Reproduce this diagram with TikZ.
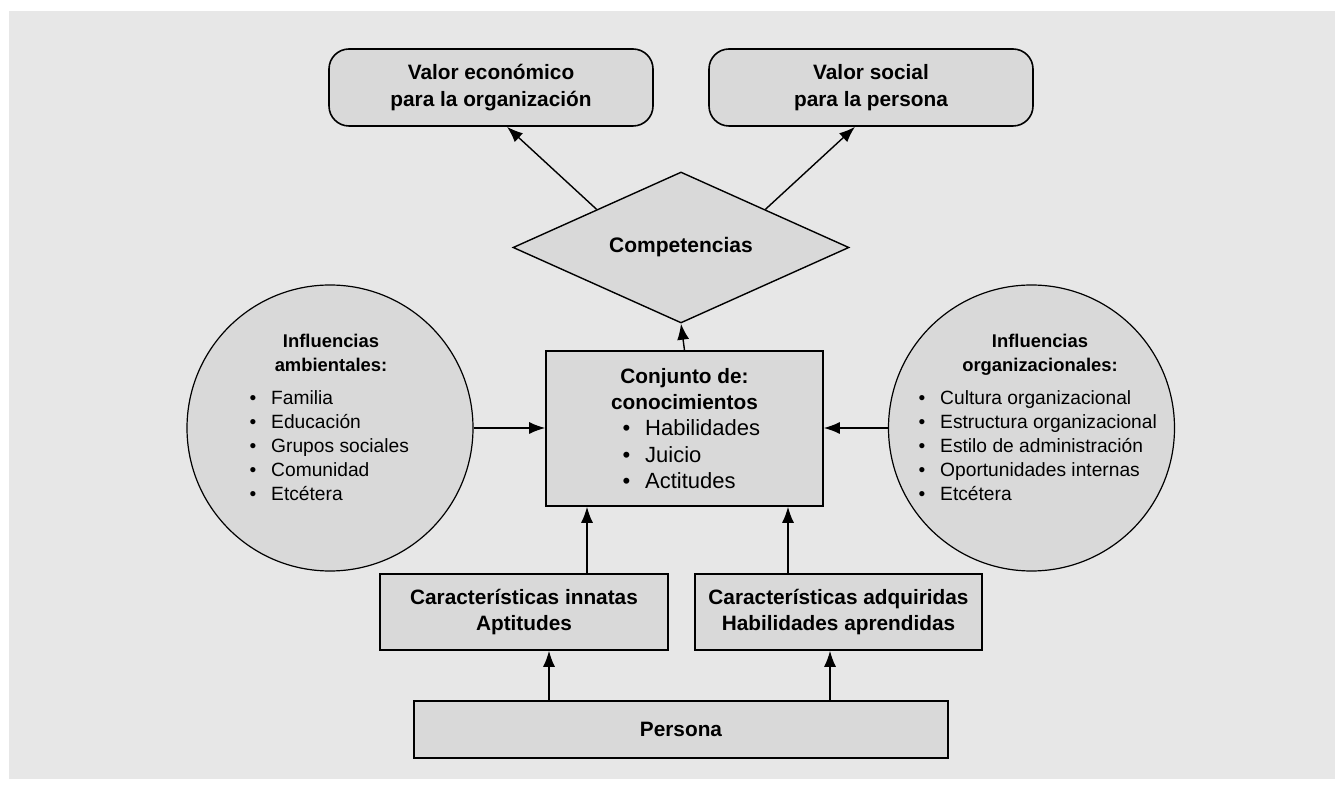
\documentclass[tikz,border=0pt]{standalone}
\usepackage{fontspec}
\setmainfont{Liberation Sans}
\usepackage{tikz}
\usetikzlibrary{arrows.meta,shapes.geometric,calc}
\definecolor{panelgray}{HTML}{E7E7E7}
\definecolor{boxgray}{HTML}{D9D9D9}
\newcommand{\bitem}[2]{\makebox[#1][l]{\textbullet\hspace{7.5pt}#2}}

\begin{document}
\begin{tikzpicture}[x=0.5pt, y=-0.5pt, >={Latex[length=8pt,width=6pt]},
  every node/.style={inner sep=0pt},
  topbox/.style={draw, line width=0.8pt, fill=boxgray, rounded corners=10pt,
    minimum width=162pt, minimum height=38.5pt, align=center,
    font=\bfseries\fontsize{10.4}{13.3}\selectfont},
  flatbox/.style={draw, line width=0.8pt, fill=boxgray, align=center,
    font=\bfseries\fontsize{10.4}{13.2}\selectfont},
  infcircle/.style={circle, draw, line width=0.6pt, fill=boxgray, minimum size=143pt},
  inftext/.style={align=center, font=\fontsize{9.6}{12}\selectfont},
  flow/.style={->, line width=0.7pt}]
  \useasboundingbox (0,0) rectangle (1344,790);
  \fill[panelgray] (9,11) rectangle (1335,779);

  % valores
  \node[topbox] (valecon) at (491,87.5) {Valor económico\\para la organización};
  \node[topbox] (valsoc) at (871,87.5) {Valor social\\para la persona};

  % competencias
  \node[diamond, draw, line width=0.7pt, fill=boxgray, aspect=2.2,
    minimum width=168pt, minimum height=75.5pt,
    font=\bfseries\fontsize{10.5}{13}\selectfont] (comp) at (681,247.5) {Competencias};

  % conjunto
  \node[flatbox, minimum width=138.5pt, minimum height=77.5pt] (conj) at (684.5,428.5)
    {Conjunto de:\\conocimientos\\
     {\mdseries\fontsize{11}{13.5}\selectfont\bitem{62pt}{Habilidades}}\\
     {\mdseries\fontsize{11}{13.5}\selectfont\bitem{62pt}{Juicio}}\\
     {\mdseries\fontsize{11}{13.5}\selectfont\bitem{62pt}{Actitudes}}};

  % influencias
  \node[infcircle] (infamb) at (330,428) {};
  \node[inftext] (infambtxt) at (331,417)
    {{\bfseries\fontsize{9.2}{12}\selectfont Influencias}\\
     {\bfseries\fontsize{9.2}{12}\selectfont ambientales:}\\[4.5pt]
     \bitem{81.5pt}{Familia}\\
     \bitem{81.5pt}{Educación}\\
     \bitem{81.5pt}{Grupos sociales}\\
     \bitem{81.5pt}{Comunidad}\\
     \bitem{81.5pt}{Etcétera}};
  \node[infcircle] (inforg) at (1031.5,428) {};
  \node[inftext] (inforgtxt) at (1040,417)
    {{\bfseries\fontsize{9.2}{12}\selectfont Influencias}\\
     {\bfseries\fontsize{9.2}{12}\selectfont organizacionales:}\\[4.5pt]
     \bitem{121.5pt}{Cultura organizacional}\\
     \bitem{121.5pt}{Estructura organizacional}\\
     \bitem{121.5pt}{Estilo de administración}\\
     \bitem{121.5pt}{Oportunidades internas}\\
     \bitem{121.5pt}{Etcétera}};

  % caracteristicas y persona
  \node[flatbox, minimum width=144pt, minimum height=38pt] (innat) at (524,612)
    {Características innatas\\Aptitudes};
  \node[flatbox, minimum width=143.5pt, minimum height=38pt] (adq) at (838.5,612)
    {Características adquiridas\\Habilidades aprendidas};
  \node[flatbox, minimum width=267pt, minimum height=28.5pt] (persona) at (681,729.5)
    {Persona};

  % flechas
  \foreach \x/\a/\b in {549/persona/innat, 830/persona/adq, 587/innat/conj, 788/adq/conj} {
    \coordinate (c) at (\x,0);
    \draw[flow] (c |- \a.north) -- (c |- \b.south);
  }
  \draw[flow] (conj.north) -- (comp.south);
  \draw[flow] ($(comp.north)!0.5!(comp.west)$) -- ([xshift=8pt]valecon.south);
  \draw[flow] ($(comp.north)!0.5!(comp.east)$) -- ([xshift=-8pt]valsoc.south);
  \draw[flow] (infamb.east) -- (infamb.east -| conj.west);
  \draw[flow] (inforg.west) -- (inforg.west -| conj.east);
\end{tikzpicture}
\end{document}
